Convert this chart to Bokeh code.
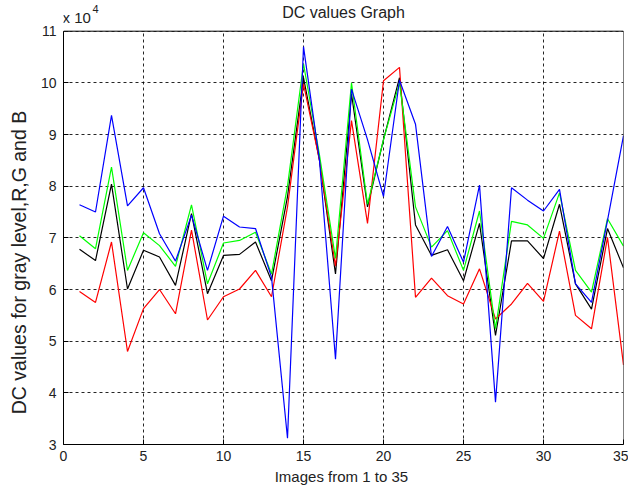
import math
from bokeh.plotting import figure
from bokeh.models import Label, FixedTicker, Range1d, BoxAnnotation
from bokeh.embed import file_html
from bokeh.resources import INLINE

images = list(range(1, 36))

# DC values in units of 1e4
dc_blue = [7.64, 7.50, 9.37, 7.62, 7.97, 7.08, 6.55, 7.44, 6.37, 7.42,
           7.21, 7.18, 6.24, 3.12, 10.70, 8.50, 4.65, 9.88, 8.90, 7.80,
           10.05, 9.20, 6.64, 7.22, 6.53, 8.02, 3.82, 7.97, 7.73, 7.52,
           7.94, 6.11, 5.75, 7.34, 8.98]
dc_green = [7.04, 6.79, 8.37, 6.37, 7.10, 6.85, 6.45, 7.64, 6.11, 6.90,
            6.95, 7.11, 6.30, 8.00, 10.37, 8.60, 6.60, 10.00, 7.65, 8.90,
            10.00, 7.60, 6.82, 7.14, 6.37, 7.52, 5.24, 7.32, 7.25, 6.99,
            7.87, 6.37, 5.95, 7.37, 6.84]
dc_gray = [6.78, 6.56, 8.04, 6.01, 6.76, 6.63, 6.08, 7.47, 5.92, 6.66,
           6.68, 6.92, 6.17, 7.80, 10.10, 8.50, 6.30, 9.79, 7.60, 8.90,
           10.10, 7.25, 6.66, 6.77, 6.17, 7.28, 5.11, 6.94, 6.94, 6.60,
           7.65, 6.11, 5.62, 7.18, 6.42]
dc_red = [5.96, 5.75, 6.92, 4.80, 5.63, 6.00, 5.53, 7.15, 5.41, 5.86,
          6.01, 6.37, 5.86, 7.60, 9.98, 8.50, 6.45, 9.27, 7.28, 10.04,
          10.30, 5.85, 6.22, 5.88, 5.72, 6.40, 5.43, 5.72, 6.12, 5.77,
          7.13, 5.50, 5.24, 7.01, 4.54]

x_ticks = [0, 5, 10, 15, 20, 25, 30, 35]
y_ticks = [3, 4, 5, 6, 7, 8, 9, 10, 11]
title_text = "DC values Graph"
x_label = "Images from 1 to  35"
y_label = "DC values for gray level,R,G and B"

FONT = "Liberation Sans"
TXT = "#222222"
W, H = 628, 494
BL, BR, BB = 63, 5, 50
X0, X1, Y0, Y1 = 0, 35, 3, 11
TOP_PAD = 30.7                     # px of headroom above y=11 inside the frame
scale = (H - BB - TOP_PAD) / (Y1 - Y0)
y_top = Y1 + TOP_PAD / scale

p = figure(width=W, height=H, output_backend="svg", toolbar_location=None, title=None,
           x_range=Range1d(X0, X1), y_range=Range1d(Y0, y_top),
           min_border_left=BL, min_border_right=BR, min_border_top=0, min_border_bottom=BB)
p.background_fill_color = "white"
p.border_fill_color = "white"
p.outline_line_color = None

for ax in (p.xaxis[0], p.yaxis[0]):
    ax.major_tick_in = 5
    ax.major_tick_out = 0
    ax.minor_tick_line_color = None
    ax.axis_line_color = "black"
    ax.major_tick_line_color = "black"
    ax.major_label_text_font = FONT
    ax.major_label_text_font_size = "14px"
    ax.major_label_text_color = TXT
    ax.axis_label_text_font = FONT
    ax.axis_label_text_font_style = "normal"
    ax.axis_label_text_color = TXT

p.xaxis[0].ticker = FixedTicker(ticks=x_ticks)
p.yaxis[0].ticker = FixedTicker(ticks=y_ticks)
p.yaxis[0].bounds = (Y0, Y1)
p.xaxis[0].axis_label = x_label
p.xaxis[0].axis_label_text_font_size = "15px"
p.xaxis[0].axis_label_standoff = 4
p.xaxis[0].major_label_standoff = 6
p.yaxis[0].major_label_standoff = 7

for g, t in ((p.xgrid[0], x_ticks), (p.ygrid[0], y_ticks)):
    g.ticker = FixedTicker(ticks=t)
    g.grid_line_color = "black"
    g.grid_line_alpha = 0.85
    g.grid_line_dash = "3 3"
    g.grid_line_width = 1

p.line(images, dc_gray, line_color="black", line_width=1.2)
p.line(images, dc_red, line_color="#ff0000", line_width=1.2)
p.line(images, dc_green, line_color="#00ff00", line_width=1.2)
p.line(images, dc_blue, line_color="#0000ff", line_width=1.2)

# blank headroom above the axes box, then the box itself
p.add_layout(BoxAnnotation(bottom=Y1, fill_color="white", fill_alpha=1.0, line_color=None))
p.add_layout(BoxAnnotation(left=X0, right=X1, bottom=Y0, top=Y1, fill_color=None,
                           fill_alpha=0, line_color="black", line_width=1, line_alpha=1))

# title and exponent in the headroom
p.add_layout(Label(x=(X0 + X1) / 2, y=Y1, y_offset=19, text=title_text,
                   text_align="center", text_baseline="middle",
                   text_font=FONT, text_font_size="16px", text_color=TXT))
p.add_layout(Label(x=X0, y=Y1, x_offset=-1, y_offset=14, text="x 10",
                   text_align="left", text_baseline="middle",
                   text_font=FONT, text_font_size="15px", text_color=TXT))
p.add_layout(Label(x=X0, y=Y1, x_offset=29, y_offset=22, text="4",
                   text_align="left", text_baseline="middle",
                   text_font=FONT, text_font_size="11px", text_color=TXT))

# y axis label in the left panel, centred like the reference
p.add_layout(Label(x=3, y=182, x_units="screen", y_units="screen", text=y_label,
                   angle=math.pi / 2, text_align="center", text_baseline="middle",
                   text_font=FONT, text_font_size="19.5px", text_color=TXT), "left")

open("out.html", "w").write(file_html(p, INLINE))
